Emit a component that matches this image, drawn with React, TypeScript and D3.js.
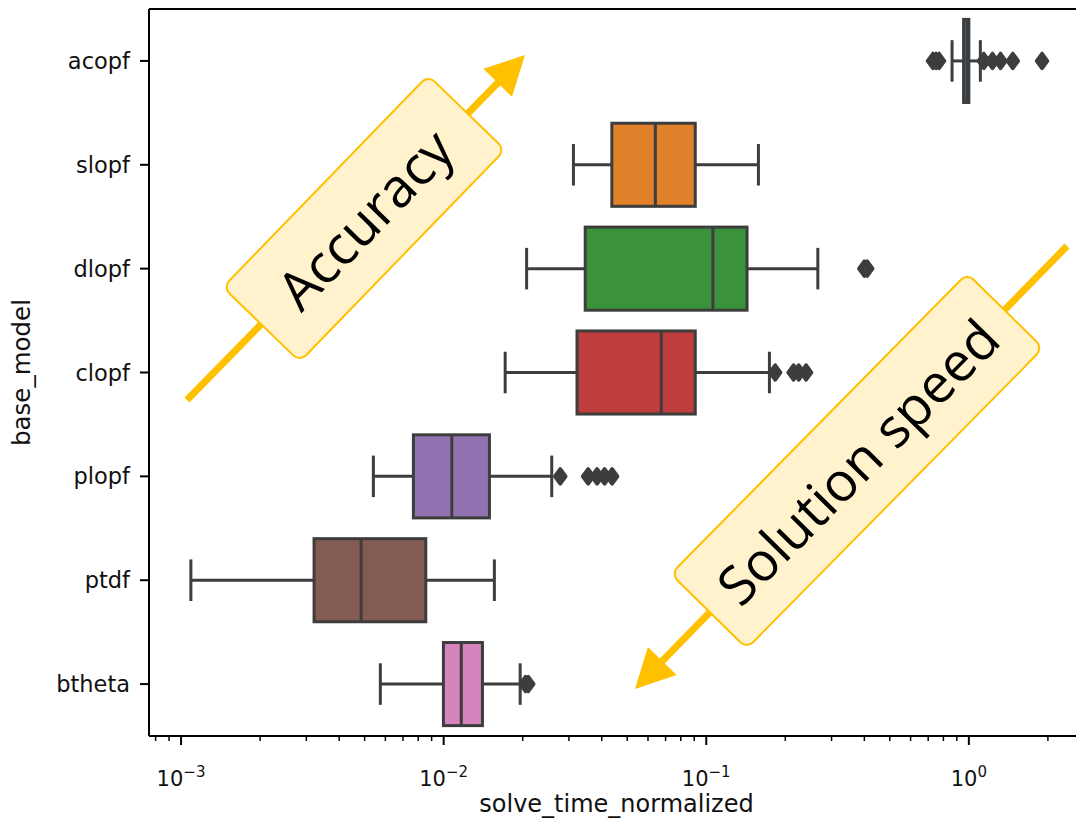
import React from 'react'
import * as d3 from 'd3'

// seaborn-like horizontal boxplot of solve time per base model
const categories = ['acopf', 'slopf', 'dlopf', 'clopf', 'plopf', 'ptdf', 'btheta']
const boxColors = ['#3274a1', '#e1812c', '#3a923a', '#c03d3e', '#9372b2', '#845b53', '#d684bd']
const whiskerLow = [0.863, 0.0312, 0.0207, 0.01715, 0.0054, 0.00109, 0.00574]
const q1 = [0.955, 0.0437, 0.0346, 0.0322, 0.00767, 0.00321, 0.00998]
const median = [0.985, 0.064, 0.106, 0.0674, 0.01074, 0.00485, 0.01167]
const q3 = [1.0, 0.0908, 0.143, 0.0908, 0.01494, 0.00855, 0.01405]
const whiskerHigh = [1.106, 0.158, 0.266, 0.174, 0.0258, 0.0156, 0.01956]
const outliers = [
  [0.73, 0.75, 0.77, 1.14, 1.23, 1.32, 1.47, 1.9],
  [],
  [0.40, 0.41],
  [0.183, 0.215, 0.225, 0.24],
  [0.0278, 0.0355, 0.0384, 0.041, 0.0438],
  [],
  [0.0205, 0.021],
]
const majorTicks = [1e-3, 1e-2, 1e-1, 1e0]
const tickExponents = ['\u22123', '\u22122', '\u22121', '0']

const W = 1076
const H = 821
const left = 149
const right = 1080
const top = 9
const bottom = 736

const ink = '#3d3d3d'
const gold = '#FFC000'

const Arrow = ({x1, y1, x2, y2}) => {
  // line with filled triangular head at (x2,y2)
  const dx = x2 - x1, dy = y2 - y1
  const len = Math.hypot(dx, dy)
  const ux = dx / len, uy = dy / len
  const headL = 39, headW = 40
  const bx = x2 - ux * headL, by = y2 - uy * headL
  const px = -uy * headW / 2, py = ux * headW / 2
  return <g>
    <line x1={x1} y1={y1} x2={bx + ux * 2} y2={by + uy * 2} stroke={gold} strokeWidth={7} />
    <path d={`M${x2},${y2}L${bx + px},${by + py}L${bx - px},${by - py}Z`} fill={gold} />
  </g>
}

const Label = ({cx, cy, len, wid, angle, text}) => (
  <g transform={`translate(${cx},${cy}) rotate(${angle})`}>
    <rect x={-len / 2} y={-wid / 2} width={len} height={wid} rx={9} fill="#FFF2CC" stroke={gold} strokeWidth={2} />
    <text x={0} y={0} textAnchor="middle" dominantBaseline="central" fontFamily="'Open Sans', 'Noto Sans', sans-serif" fontSize={54} fill="#000">{text}</text>
  </g>
)

export default function App() {
  const x = d3.scaleLog().domain([7.55e-4, 2.65]).range([left, right])
  const y = d3.scaleBand().domain(categories).range([top, bottom]).paddingInner(0).paddingOuter(0)
  const bw = y.bandwidth() * 0.8
  const capH = bw / 2

  const minorTicks = x.ticks().filter(t => !majorTicks.some(m => Math.abs(m - t) / m < 1e-6))

  return <svg width={W} height={H} style={{position: 'absolute', left: 0, top: 0, background: '#fff'}}>
    <g>
      {categories.map((c, i) => {
        const cy = y(c) + y.bandwidth() / 2
        return <g key={c}>
          <line x1={x(whiskerLow[i])} x2={x(q1[i])} y1={cy} y2={cy} stroke={ink} strokeWidth={3} />
          <line x1={x(q3[i])} x2={x(whiskerHigh[i])} y1={cy} y2={cy} stroke={ink} strokeWidth={3} />
          <line x1={x(whiskerLow[i])} x2={x(whiskerLow[i])} y1={cy - capH / 2} y2={cy + capH / 2} stroke={ink} strokeWidth={3} />
          <line x1={x(whiskerHigh[i])} x2={x(whiskerHigh[i])} y1={cy - capH / 2} y2={cy + capH / 2} stroke={ink} strokeWidth={3} />
          <rect x={x(q1[i])} y={cy - bw / 2} width={x(q3[i]) - x(q1[i])} height={bw} fill={boxColors[i]} stroke={ink} strokeWidth={3} />
          <line x1={x(median[i])} x2={x(median[i])} y1={cy - bw / 2} y2={cy + bw / 2} stroke={ink} strokeWidth={3} />
          {outliers[i].map((v, j) => (
            <path key={j} transform={`translate(${x(v)},${cy})`} d="M0,-7.5L5.5,0L0,7.5L-5.5,0Z" fill={ink} stroke={ink} strokeWidth={3.5} strokeLinejoin="round" />
          ))}
        </g>
      })}
    </g>

    {/* spines */}
    <line x1={left} x2={left} y1={top} y2={bottom} stroke="#000" strokeWidth={2} />
    <line x1={left} x2={right} y1={top} y2={top} stroke="#000" strokeWidth={2} />
    <line x1={left} x2={right} y1={bottom} y2={bottom} stroke="#000" strokeWidth={2} />

    {/* y ticks */}
    {categories.map(c => {
      const cy = y(c) + y.bandwidth() / 2
      return <g key={c}>
        <line x1={left - 9} x2={left} y1={cy} y2={cy} stroke="#000" strokeWidth={2} />
        <text x={left - 19} y={cy} textAnchor="end" dominantBaseline="central" fontFamily="'DejaVu Sans', sans-serif" fontSize={22.5} fill="#111">{c}</text>
      </g>
    })}

    {/* x ticks */}
    {minorTicks.map((t, i) => (
      <line key={i} x1={x(t)} x2={x(t)} y1={bottom} y2={bottom + 5} stroke="#000" strokeWidth={1.5} />
    ))}
    {majorTicks.map((t, i) => (
      <g key={t}>
        <line x1={x(t)} x2={x(t)} y1={bottom} y2={bottom + 9} stroke="#000" strokeWidth={2} />
        <text x={x(t)} y={786} textAnchor="middle" fontFamily="'DejaVu Sans', sans-serif" fontSize={21} fill="#111">
          10<tspan fontSize={15} dy={-9}>{tickExponents[i]}</tspan>
        </text>
      </g>
    ))}

    <text x={(left + 1076) / 2 + 4} y={812} textAnchor="middle" fontFamily="'DejaVu Sans', sans-serif" fontSize={24} fill="#111">solve_time_normalized</text>
    <text transform={`translate(30,${(top + bottom) / 2}) rotate(-90)`} textAnchor="middle" fontFamily="'DejaVu Sans', sans-serif" fontSize={24.5} fill="#111">base_model</text>

    {/* annotation arrows */}
    <Arrow x1={187} y1={400} x2={525} y2={55} />
    <Label cx={364} cy={218.5} len={295} wid={107} angle={-45.9} text="Accuracy" />
    <Arrow x1={1067} y1={246} x2={635} y2={689} />
    <Label cx={857} cy={461} len={422} wid={106.5} angle={-45.4} text="Solution speed" />
  </svg>
}
